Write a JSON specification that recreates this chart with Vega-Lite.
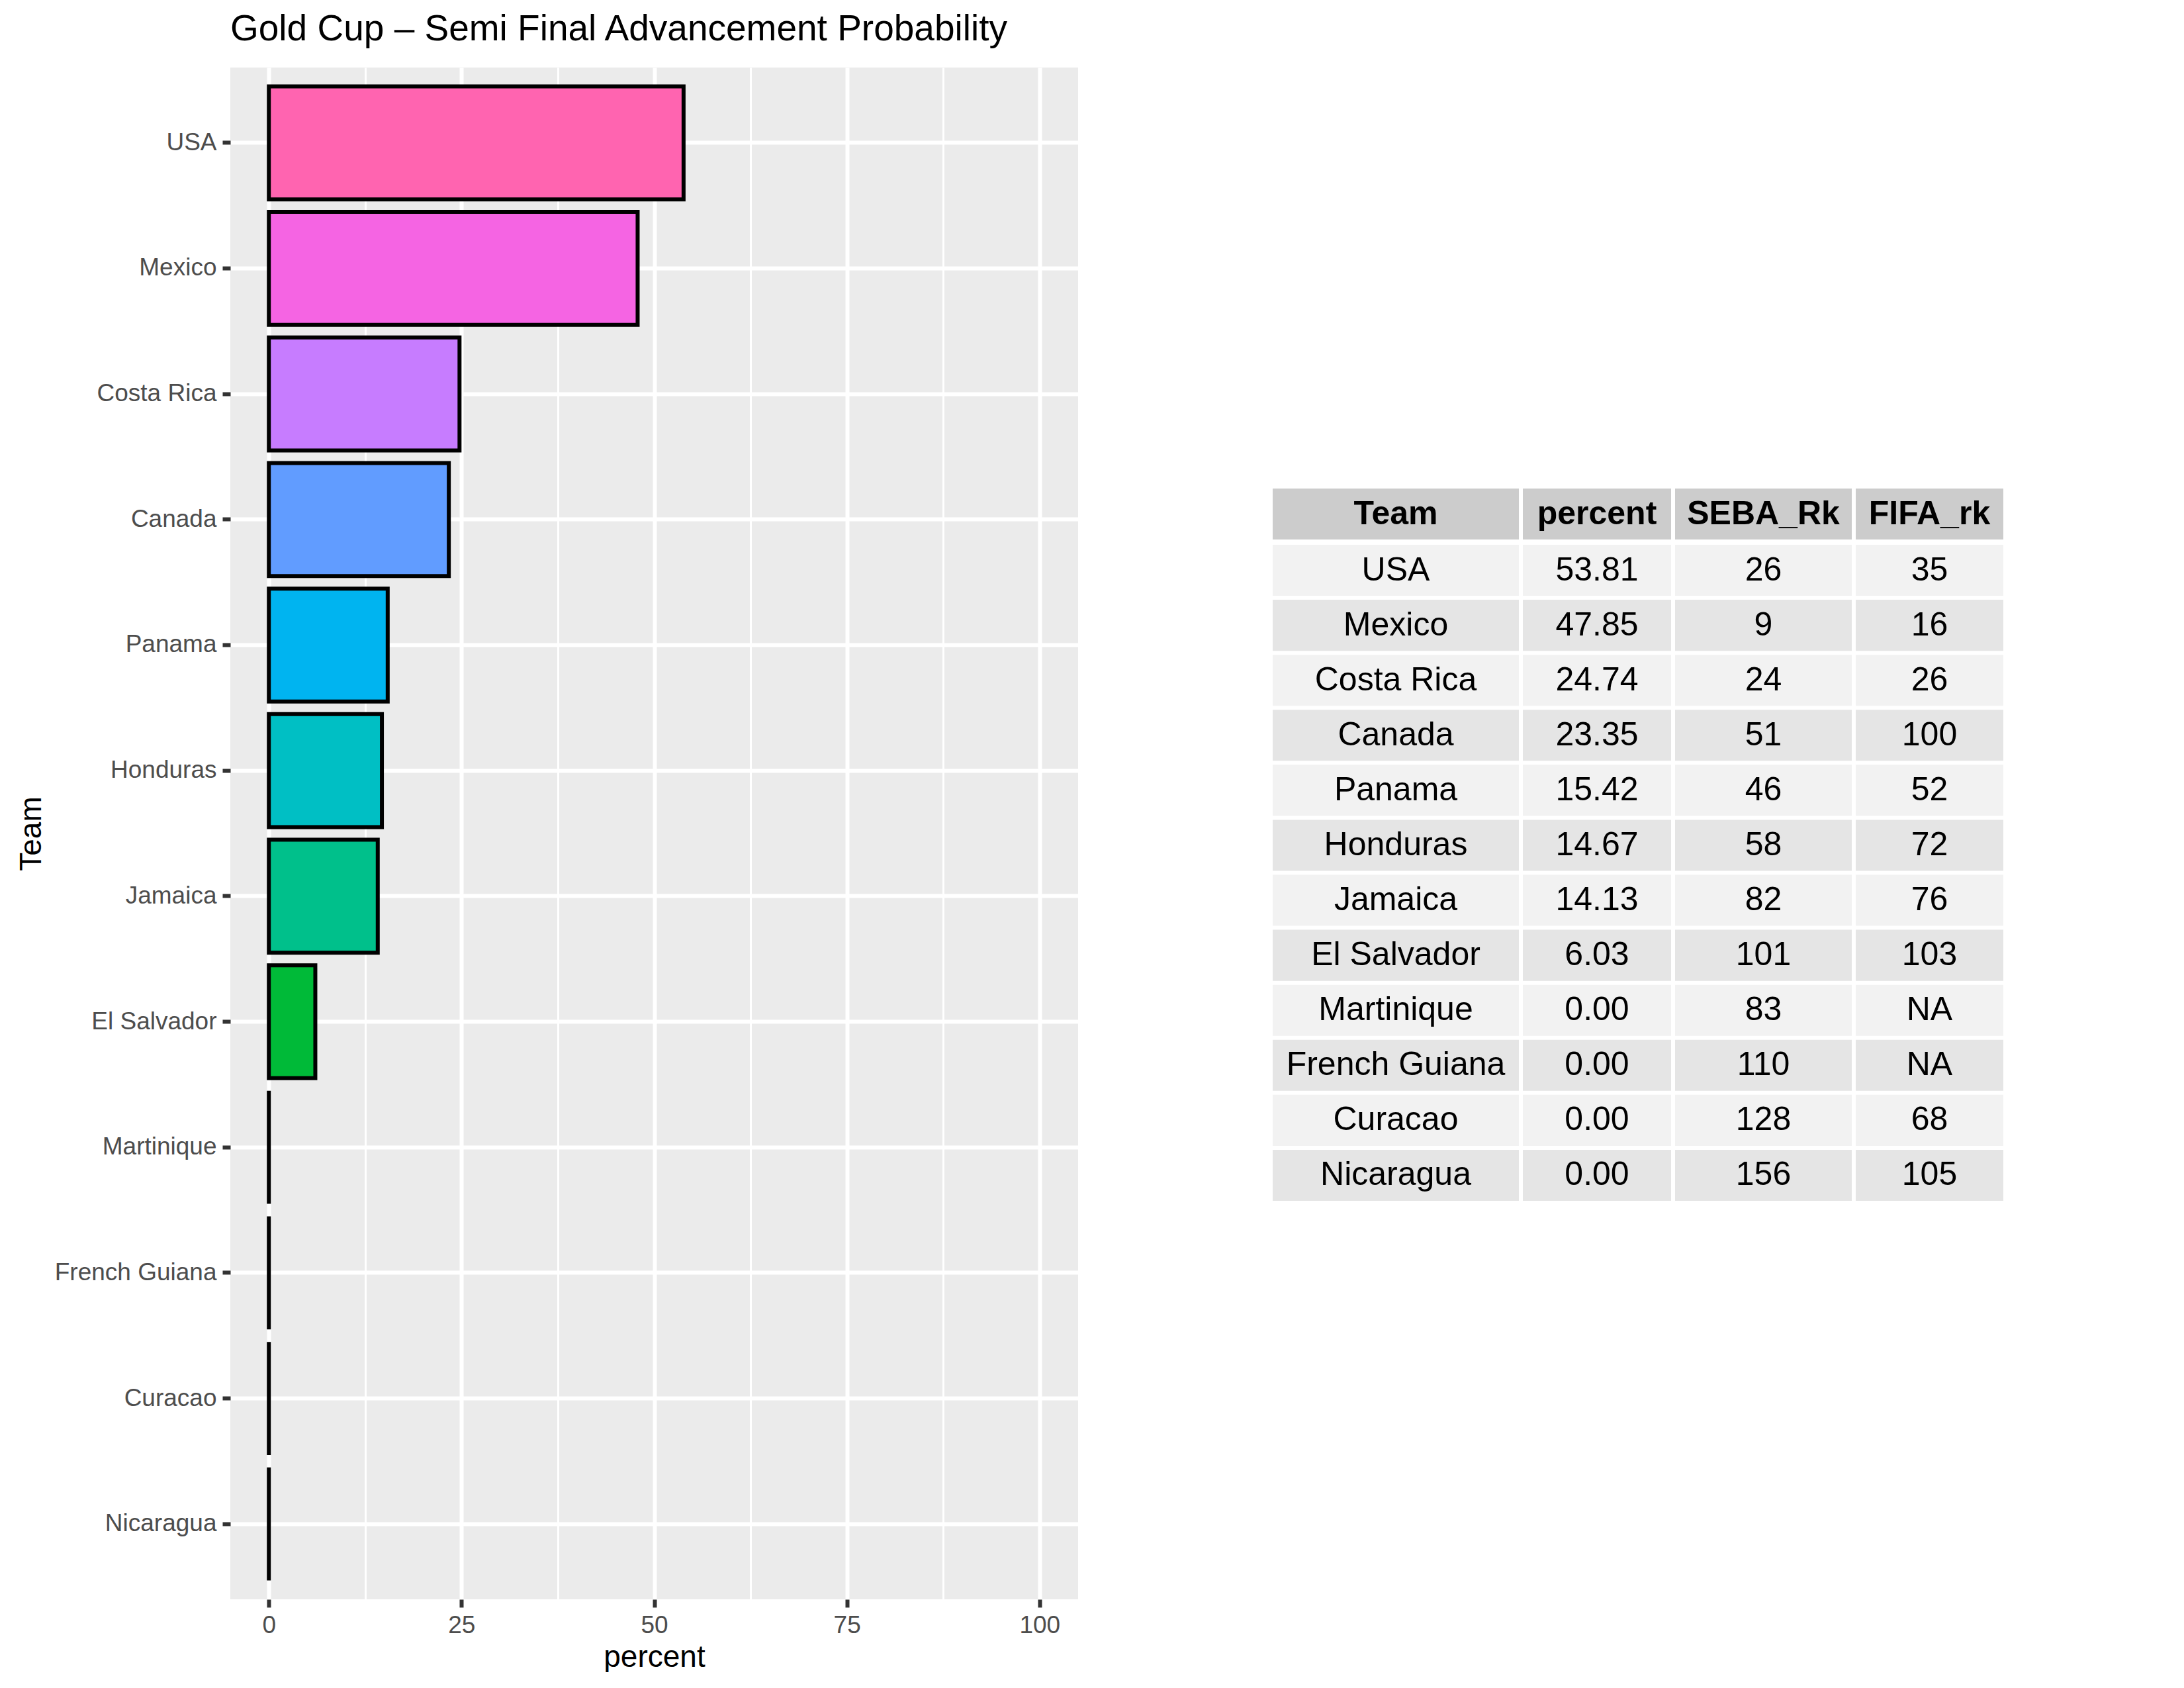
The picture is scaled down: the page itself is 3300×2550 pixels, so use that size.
{
  "$schema": "https://vega.github.io/schema/vega-lite/v6.json",
  "background": "white",
  "padding": {"left": 24, "top": 17, "right": 0, "bottom": 0},
  "config": {"font": "Liberation Sans", "view": {"stroke": null}},
  "datasets": {
    "teams": [
      {"Team": "USA", "percent": 53.81, "SEBA_Rk": 26, "FIFA_rk": "35"},
      {"Team": "Mexico", "percent": 47.85, "SEBA_Rk": 9, "FIFA_rk": "16"},
      {"Team": "Costa Rica", "percent": 24.74, "SEBA_Rk": 24, "FIFA_rk": "26"},
      {"Team": "Canada", "percent": 23.35, "SEBA_Rk": 51, "FIFA_rk": "100"},
      {"Team": "Panama", "percent": 15.42, "SEBA_Rk": 46, "FIFA_rk": "52"},
      {"Team": "Honduras", "percent": 14.67, "SEBA_Rk": 58, "FIFA_rk": "72"},
      {"Team": "Jamaica", "percent": 14.13, "SEBA_Rk": 82, "FIFA_rk": "76"},
      {"Team": "El Salvador", "percent": 6.03, "SEBA_Rk": 101, "FIFA_rk": "103"},
      {"Team": "Martinique", "percent": 0, "SEBA_Rk": 83, "FIFA_rk": "NA"},
      {"Team": "French Guiana", "percent": 0, "SEBA_Rk": 110, "FIFA_rk": "NA"},
      {"Team": "Curacao", "percent": 0, "SEBA_Rk": 128, "FIFA_rk": "68"},
      {"Team": "Nicaragua", "percent": 0, "SEBA_Rk": 156, "FIFA_rk": "105"}
    ]
  },
  "spacing": 294,
  "center": true,
  "hconcat": [
    {
      "title": {"text": "Gold Cup – Semi Final Advancement Probability", "anchor": "start", "frame": "group", "fontSize": 55, "fontWeight": "normal", "color": "black", "baseline": "alphabetic", "offset": -14},
      "data": {"name": "teams"},
      "width": 1281,
      "height": 2314,
      "view": {"fill": "#EBEBEB", "stroke": null},
      "mark": {"type": "bar", "stroke": "black", "strokeWidth": 6},
      "encoding": {
        "y": {
          "field": "Team", "type": "nominal",
          "sort": ["USA", "Mexico", "Costa Rica", "Canada", "Panama", "Honduras", "Jamaica", "El Salvador", "Martinique", "French Guiana", "Curacao", "Nicaragua"],
          "scale": {"paddingInner": 0.1, "paddingOuter": 0.15},
          "axis": {
            "title": "Team", "titleFontSize": 46, "titleFontWeight": "normal", "titleColor": "black", "titlePadding": 77,
            "labelFontSize": 37, "labelColor": "#4D4D4D", "labelPadding": 9, "labelLimit": 0,
            "tickColor": "#333333", "tickWidth": 6, "tickSize": 12, "domain": false,
            "grid": true, "gridColor": "white", "gridWidth": 6, "bandPosition": 0.5
          }
        },
        "x": {
          "field": "percent", "type": "quantitative",
          "scale": {"domain": [-5, 105], "nice": false, "zero": false},
          "axis": {
            "title": "percent", "titleFontSize": 46, "titleFontWeight": "normal", "titleColor": "black", "titlePadding": 8,
            "values": [0, 12.5, 25, 37.5, 50, 62.5, 75, 87.5, 100], "format": "d",
            "labelExpr": "datum.value % 25 === 0 ? datum.label : ''", "labelOverlap": false,
            "labelFontSize": 37, "labelColor": "#4D4D4D", "labelPadding": 9,
            "tickColor": "#333333", "tickWidth": 6, "tickSize": 12, "domain": false,
            "tickOpacity": {"condition": {"test": "datum.value % 25 === 0", "value": 1}, "value": 0},
            "grid": true, "gridColor": "white",
            "gridWidth": {"condition": {"test": "datum.value % 25 === 0", "value": 6}, "value": 3}
          }
        },
        "x2": {"datum": 0},
        "fill": {
          "field": "Team", "type": "nominal",
          "scale": {
            "domain": ["USA", "Mexico", "Costa Rica", "Canada", "Panama", "Honduras", "Jamaica", "El Salvador", "Martinique", "French Guiana", "Curacao", "Nicaragua"],
            "range": ["#FF64B0", "#F564E3", "#C77CFF", "#619CFF", "#00B4F0", "#00BFC4", "#00C08B", "#00BA38", "#7CAE00", "#B79F00", "#DE8C00", "#F8766D"]
          },
          "legend": null
        }
      }
    },
    {
      "spacing": 7,
      "vconcat": [
        {
          "spacing": 6,
          "hconcat": [
            {"data": {"values": [{"h": "Team"}]}, "width": 372, "height": 77, "view": {"fill": "#CCCCCC", "stroke": null},
             "mark": {"type": "text", "fontSize": 50, "fontWeight": "bold", "color": "black", "baseline": "middle"}, "encoding": {"text": {"field": "h"}}},
            {"data": {"values": [{"h": "percent"}]}, "width": 224, "height": 77, "view": {"fill": "#CCCCCC", "stroke": null},
             "mark": {"type": "text", "fontSize": 50, "fontWeight": "bold", "color": "black", "baseline": "middle"}, "encoding": {"text": {"field": "h"}}},
            {"data": {"values": [{"h": "SEBA_Rk"}]}, "width": 267, "height": 77, "view": {"fill": "#CCCCCC", "stroke": null},
             "mark": {"type": "text", "fontSize": 50, "fontWeight": "bold", "color": "black", "baseline": "middle"}, "encoding": {"text": {"field": "h"}}},
            {"data": {"values": [{"h": "FIFA_rk"}]}, "width": 223, "height": 77, "view": {"fill": "#CCCCCC", "stroke": null},
             "mark": {"type": "text", "fontSize": 50, "fontWeight": "bold", "color": "black", "baseline": "middle"}, "encoding": {"text": {"field": "h"}}}
          ]
        },
        {
          "spacing": 6,
          "hconcat": [
            {
              "data": {"name": "teams"}, "width": 372, "height": 991,
              "encoding": {
                "y": {"field": "Team", "type": "nominal", "sort": ["USA", "Mexico", "Costa Rica", "Canada", "Panama", "Honduras", "Jamaica", "El Salvador", "Martinique", "French Guiana", "Curacao", "Nicaragua"], "scale": {"paddingInner": 0.072, "paddingOuter": 0}, "axis": null}
              },
              "layer": [
                {"mark": {"type": "rect"}, "encoding": {"color": {"field": "Team", "type": "nominal", "scale": {"domain": ["USA", "Mexico", "Costa Rica", "Canada", "Panama", "Honduras", "Jamaica", "El Salvador", "Martinique", "French Guiana", "Curacao", "Nicaragua"], "range": ["#F2F2F2", "#E5E5E5", "#F2F2F2", "#E5E5E5", "#F2F2F2", "#E5E5E5", "#F2F2F2", "#E5E5E5", "#F2F2F2", "#E5E5E5", "#F2F2F2", "#E5E5E5"]}, "legend": null}}},
                {"mark": {"type": "text", "fontSize": 50, "color": "black", "baseline": "middle"}, "encoding": {"text": {"field": "Team"}}}
              ]
            },
            {
              "data": {"name": "teams"}, "width": 224, "height": 991,
              "encoding": {
                "y": {"field": "Team", "type": "nominal", "sort": ["USA", "Mexico", "Costa Rica", "Canada", "Panama", "Honduras", "Jamaica", "El Salvador", "Martinique", "French Guiana", "Curacao", "Nicaragua"], "scale": {"paddingInner": 0.072, "paddingOuter": 0}, "axis": null}
              },
              "layer": [
                {"mark": {"type": "rect"}, "encoding": {"color": {"field": "Team", "type": "nominal", "scale": {"domain": ["USA", "Mexico", "Costa Rica", "Canada", "Panama", "Honduras", "Jamaica", "El Salvador", "Martinique", "French Guiana", "Curacao", "Nicaragua"], "range": ["#F2F2F2", "#E5E5E5", "#F2F2F2", "#E5E5E5", "#F2F2F2", "#E5E5E5", "#F2F2F2", "#E5E5E5", "#F2F2F2", "#E5E5E5", "#F2F2F2", "#E5E5E5"]}, "legend": null}}},
                {"mark": {"type": "text", "fontSize": 50, "color": "black", "baseline": "middle"}, "encoding": {"text": {"field": "percent", "type": "quantitative", "format": ".2f"}}}
              ]
            },
            {
              "data": {"name": "teams"}, "width": 267, "height": 991,
              "encoding": {
                "y": {"field": "Team", "type": "nominal", "sort": ["USA", "Mexico", "Costa Rica", "Canada", "Panama", "Honduras", "Jamaica", "El Salvador", "Martinique", "French Guiana", "Curacao", "Nicaragua"], "scale": {"paddingInner": 0.072, "paddingOuter": 0}, "axis": null}
              },
              "layer": [
                {"mark": {"type": "rect"}, "encoding": {"color": {"field": "Team", "type": "nominal", "scale": {"domain": ["USA", "Mexico", "Costa Rica", "Canada", "Panama", "Honduras", "Jamaica", "El Salvador", "Martinique", "French Guiana", "Curacao", "Nicaragua"], "range": ["#F2F2F2", "#E5E5E5", "#F2F2F2", "#E5E5E5", "#F2F2F2", "#E5E5E5", "#F2F2F2", "#E5E5E5", "#F2F2F2", "#E5E5E5", "#F2F2F2", "#E5E5E5"]}, "legend": null}}},
                {"mark": {"type": "text", "fontSize": 50, "color": "black", "baseline": "middle"}, "encoding": {"text": {"field": "SEBA_Rk", "type": "quantitative", "format": "d"}}}
              ]
            },
            {
              "data": {"name": "teams"}, "width": 223, "height": 991,
              "encoding": {
                "y": {"field": "Team", "type": "nominal", "sort": ["USA", "Mexico", "Costa Rica", "Canada", "Panama", "Honduras", "Jamaica", "El Salvador", "Martinique", "French Guiana", "Curacao", "Nicaragua"], "scale": {"paddingInner": 0.072, "paddingOuter": 0}, "axis": null}
              },
              "layer": [
                {"mark": {"type": "rect"}, "encoding": {"color": {"field": "Team", "type": "nominal", "scale": {"domain": ["USA", "Mexico", "Costa Rica", "Canada", "Panama", "Honduras", "Jamaica", "El Salvador", "Martinique", "French Guiana", "Curacao", "Nicaragua"], "range": ["#F2F2F2", "#E5E5E5", "#F2F2F2", "#E5E5E5", "#F2F2F2", "#E5E5E5", "#F2F2F2", "#E5E5E5", "#F2F2F2", "#E5E5E5", "#F2F2F2", "#E5E5E5"]}, "legend": null}}},
                {"mark": {"type": "text", "fontSize": 50, "color": "black", "baseline": "middle"}, "encoding": {"text": {"field": "FIFA_rk", "type": "nominal"}}}
              ]
            }
          ]
        },
        {"data": {"values": []}, "width": 1, "height": 69, "mark": {"type": "point", "opacity": 0}}
      ]
    }
  ]
}
